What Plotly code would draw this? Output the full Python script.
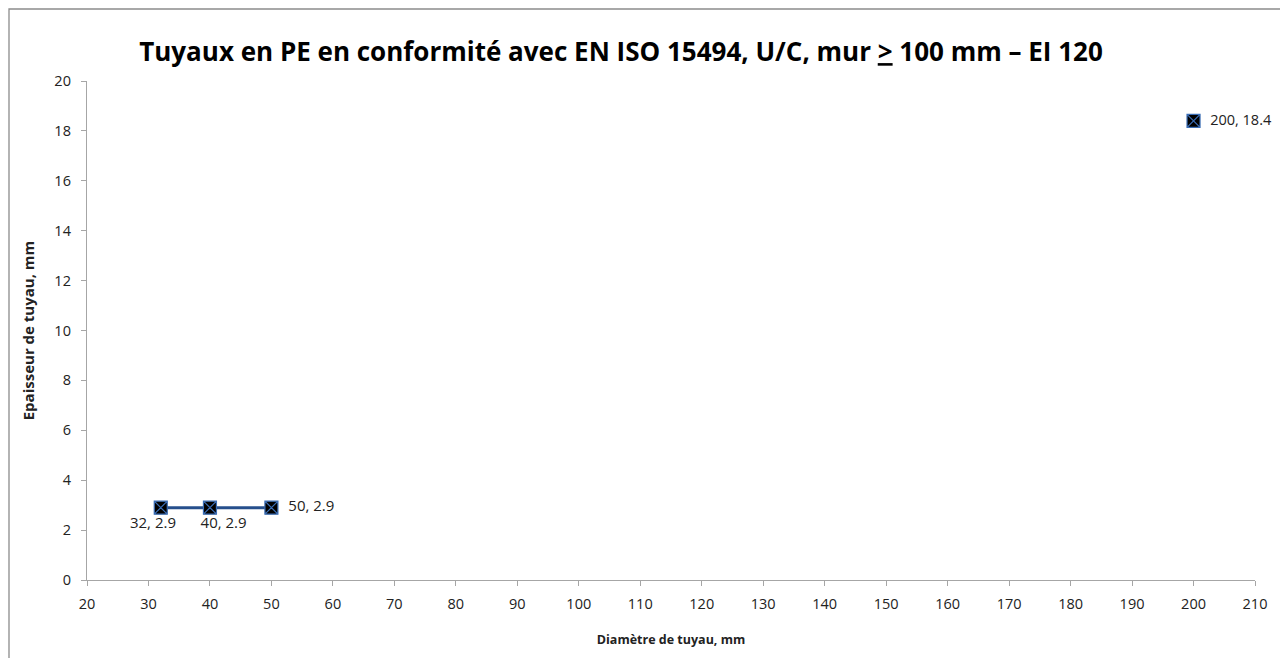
import plotly.graph_objects as go

diam_line = [32, 40, 50]
thick_line = [2.9, 2.9, 2.9]
label_pos_line = ["bottom center", "bottom center", "middle right"]
diam_single = [200]
thick_single = [18.4]

FONT = "'Open Sans', Lato, sans-serif"
OX, OY = 8, 8  # page (body) offset
W, H = 1288, 658
L = 87 - OX
T = 81 - OY
R = W + OX - 1255
B = H + OY - 580
pw, ph = W - L - R, H - T - B

def fx(px):  # figure px -> paper
    return (px - L) / pw

def fy(py):
    return (H - B - py) / ph

marker = dict(symbol="square-x", size=13, color="black",
              line=dict(color="#3a6db5", width=1.2))

# label padding (spaces) to mimic the original label placement
pad_left = ["", "       ", "  "]
pad_right = ["    ", "", ""]
line_text = [pl + f"{a}, {b}" + pr
             for a, b, pl, pr in zip(diam_line, thick_line, pad_left, pad_right)]

fig = go.Figure()
fig.add_trace(go.Scatter(
    x=diam_line, y=thick_line, mode="lines+markers+text",
    line=dict(color="#264f8c", width=3),
    marker=marker,
    text=line_text,
    textposition=label_pos_line,
    textfont=dict(family=FONT, size=15, color="#222"),
    cliponaxis=False, showlegend=False))
fig.add_trace(go.Scatter(
    x=diam_single, y=thick_single, mode="markers+text",
    marker=marker,
    text=[f"  {a}, {b}" for a, b in zip(diam_single, thick_single)],
    textposition="middle right",
    textfont=dict(family=FONT, size=14.5, color="#222"),
    cliponaxis=False, showlegend=False))

fig.update_layout(
    width=W, height=H,
    margin=dict(l=L, r=R, t=T, b=B, autoexpand=False),
    paper_bgcolor="white", plot_bgcolor="white",
    font=dict(family=FONT, size=13, color="#222"),
    title=dict(text="<b>Tuyaux en PE en conformité avec EN ISO 15494, U/C, mur <u>></u> 100 mm – EI 120</b>",
               x=(621 - OX) / W, xanchor="center", y=1 - (52 - OY) / H, yanchor="middle",
               font=dict(family=FONT, size=26, color="black")),
    xaxis=dict(range=[20, 210], dtick=10, tick0=20, showgrid=False, zeroline=False,
               showline=True, linecolor="#a6a6a6", linewidth=1.3,
               ticks="outside", tickcolor="#a6a6a6", ticklen=5,
               ticklabelstandoff=5,
               tickfont=dict(size=14.5),
               title=dict(text="<b>Diamètre de tuyau, mm</b>", font=dict(size=12.5), standoff=23)),
    yaxis=dict(range=[0, 20], dtick=2, showgrid=False, zeroline=False,
               showline=True, linecolor="#a6a6a6", linewidth=1.3,
               ticks="outside", tickcolor="#a6a6a6", ticklen=5,
               ticklabelstandoff=7,
               tickfont=dict(size=14.5),
               title=dict(text="<b>Epaisseur de tuyau, mm</b>", font=dict(size=15), standoff=16)),
    shapes=[dict(type="rect", xref="paper", yref="paper",
                 x0=fx(1), x1=fx(1285 - OX),
                 y0=fy(720), y1=fy(1),
                 line=dict(color="#8c8c8c", width=1.3), fillcolor="rgba(0,0,0,0)",
                 layer="below")],
)

fig.write_html("out.html")
